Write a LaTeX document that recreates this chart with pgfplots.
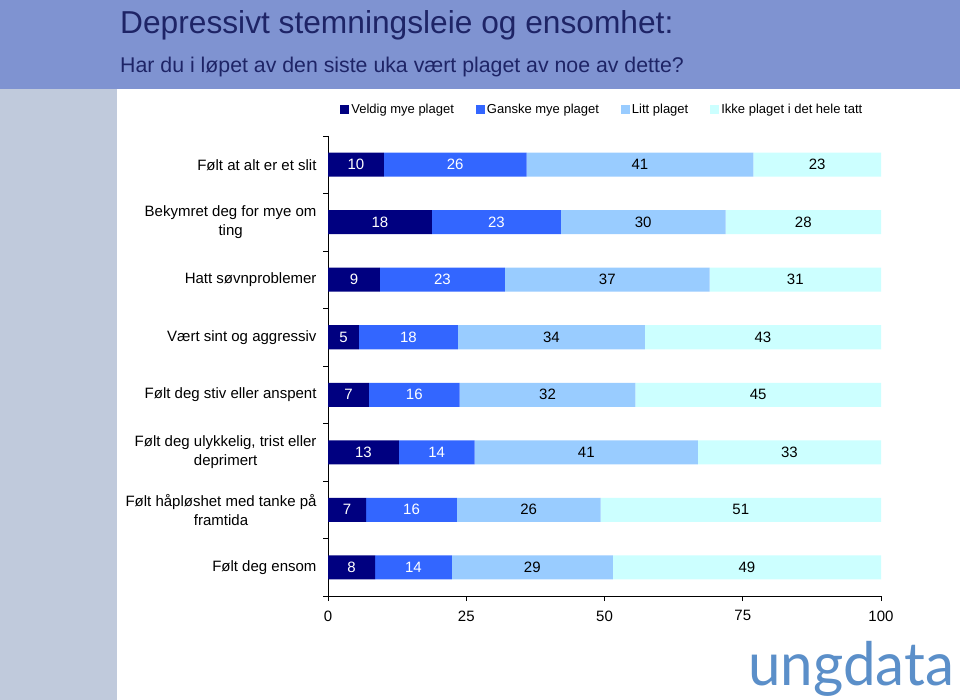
\documentclass[border=0pt]{standalone}
\usepackage{pgfplots}
\pgfplotsset{compat=1.18}
\usepackage{pgfplotstable}
\usepackage{fontspec}
\setmainfont{Liberation Sans}
\newfontfamily\logofont{Lato}
\definecolor{hdr}{RGB}{127,147,209}
\definecolor{side}{RGB}{192,202,220}
\definecolor{ttl}{RGB}{30,36,102}
\definecolor{c1}{RGB}{0,0,128}
\definecolor{c2}{RGB}{51,102,255}
\definecolor{c3}{RGB}{153,204,255}
\definecolor{c4}{RGB}{204,255,255}
\definecolor{logo}{RGB}{91,143,201}
\pgfplotstableread{
row a b c d la lb lc ld
1 10.1 25.8 41.0 23.1 10 26 41 23
2 18.8 23.3 29.8 28.1 18 23 30 28
3 9.4 22.6 37.0 31.0 9 23 37 31
4 5.6 17.9 33.8 42.7 5 18 34 43
5 7.4 16.4 31.8 44.4 7 16 32 45
6 12.8 13.7 40.4 33.1 13 14 41 33
7 6.9 16.4 26.0 50.7 7 16 26 51
8 8.5 13.9 29.1 48.5 8 14 29 49
}\data
\begin{document}
\begin{tikzpicture}[x=1pt,y=1pt]
\useasboundingbox (0,0) rectangle (960,700);
\fill[white] (0,0) rectangle (960,700);
\fill[hdr] (0,611) rectangle (960,700);
\fill[side] (0,0) rectangle (117,611);
\node[anchor=base west, inner sep=0, text=ttl, font=\fontsize{31.7}{31.7}\selectfont] at (120,666) {Depressivt stemningsleie og ensomhet:};
\node[anchor=base west, inner sep=0, text=ttl, font=\fontsize{21.3}{21.3}\selectfont] at (120,627) {Har du i løpet av den siste uka vært plaget av noe av dette?};
\node[anchor=base west, inner sep=0, text=logo] at (748,14) {\scalebox{0.97}[1]{\logofont\fontsize{60}{60}\selectfont ungdata}};
\begin{axis}[
  at={(328pt,104pt)}, anchor=south west,
  scale only axis, width=553pt, height=460pt,
  xbar stacked, bar width=24pt,
  xmin=0, xmax=100, ymin=0.5, ymax=8.5, y dir=reverse,
  axis x line*=bottom, axis y line*=left,
  axis line style={-, black, line width=0.8pt},
  tick style={black, line width=0.8pt},
  tick align=outside, major tick length=5pt,
  xtick={0,25,50,75,100},
  xticklabel style={font=\fontsize{15}{15}\selectfont, yshift=-6pt},
  /pgf/number format/assume math mode=true,
  ytick={0.5,1.5,...,8.5}, yticklabels={},
  extra y ticks={1,2,3,4,5,6,7,8},
  extra y tick labels={Følt at alt er et slit, {Bekymret deg for mye om\\ting}, Hatt søvnproblemer, Vært sint og aggressiv, Følt deg stiv eller anspent, {Følt deg ulykkelig, trist eller\\deprimert}, {Følt håpløshet med tanke på\\framtida}, Følt deg ensom},
  extra y tick style={major tick length=0pt, yticklabel style={align=center, anchor=east, xshift=-8pt, font=\fontsize{15}{19}\selectfont}},
  legend style={draw=none, legend columns=4, at={(0.496,1.057)}, anchor=center, font=\fontsize{13}{13}\selectfont, /tikz/every even column/.append style={column sep=20pt}},
  legend image code/.code={\fill[#1] (0pt,-4.5pt) rectangle (9pt,4.5pt);},
]
\addplot[fill=c1, draw=none] table[x=a, y=row]{\data};
\addplot[fill=c2, draw=none] table[x=b, y=row]{\data};
\addplot[fill=c3, draw=none] table[x=c, y=row]{\data};
\addplot[fill=c4, draw=none] table[x=d, y=row]{\data};
\legend{Veldig mye plaget, Ganske mye plaget, Litt plaget, Ikke plaget i det hele tatt}
\end{axis}
\begin{axis}[
  at={(328pt,104pt)}, anchor=south west,
  scale only axis, width=553pt, height=460pt,
  xmin=0, xmax=100, ymin=0.5, ymax=8.5, y dir=reverse,
  hide axis, clip=false,
  every node near coord/.append style={anchor=center, font=\fontsize{15}{15}\selectfont},
]
\addplot[draw=none, nodes near coords, point meta=explicit symbolic, every node near coord/.append style={text=white}] table[x expr=\thisrow{a}/2, y=row, meta=la]{\data};
\addplot[draw=none, nodes near coords, point meta=explicit symbolic, every node near coord/.append style={text=white}] table[x expr=\thisrow{a}+\thisrow{b}/2, y=row, meta=lb]{\data};
\addplot[draw=none, nodes near coords, point meta=explicit symbolic, every node near coord/.append style={text=black}] table[x expr=\thisrow{a}+\thisrow{b}+\thisrow{c}/2, y=row, meta=lc]{\data};
\addplot[draw=none, nodes near coords, point meta=explicit symbolic, every node near coord/.append style={text=black}] table[x expr=\thisrow{a}+\thisrow{b}+\thisrow{c}+\thisrow{d}/2, y=row, meta=ld]{\data};
\end{axis}
\end{tikzpicture}
\end{document}
